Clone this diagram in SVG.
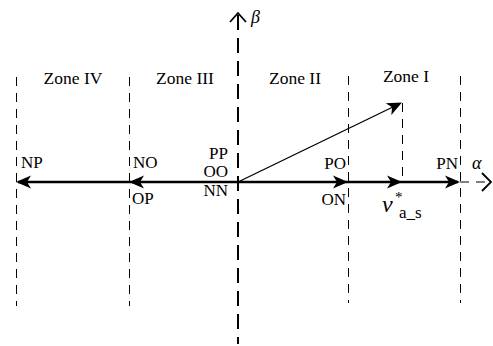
<svg xmlns="http://www.w3.org/2000/svg" width="493" height="346" viewBox="0 0 493 346">
<style>
.dash{stroke:#000;stroke-width:1;stroke-dasharray:9 7;fill:none}
.axisb{stroke:#000;stroke-width:2;stroke-dasharray:15 8;fill:none}
.open{stroke:#000;stroke-width:1.8;fill:none}
.thick{stroke:#000;stroke-width:2.6;fill:none}
.thin{stroke:#000;stroke-width:1.3;fill:none}
.head{fill:#000;stroke:none}
</style>
<defs>
<path id="hd" d="M0,0 L-15,-6.5 L-11,0 L-15,6.5 Z"/>
</defs>
<rect width="493" height="346" fill="#fff"/>
<g id="zone-boundaries">
<line class="dash" x1="16.5" y1="77" x2="16.5" y2="306"/>
<line class="dash" x1="129.5" y1="77" x2="129.5" y2="306"/>
<line class="dash" x1="348.5" y1="76" x2="348.5" y2="303"/>
<line class="dash" x1="460.5" y1="76" x2="460.5" y2="303"/>
</g>
<g id="beta-axis">
<line class="axisb" x1="238" y1="15" x2="238" y2="344"/>
<polyline class="open" points="230,22 238,13 246,22"/>
<text font-family="Liberation Serif" font-size="18" x="251" y="23" font-style="italic">β</text>
</g>
<g id="alpha-axis">
<line class="dash" x1="460" y1="182" x2="490" y2="182"/>
<polyline class="open" points="482,173 491,182 482,191"/>
<text font-family="Liberation Serif" font-size="18" x="472" y="169" font-style="italic">α</text>
</g>
<g id="connectors">
<line class="thick" x1="18" y1="182" x2="458" y2="182"/>
<use href="#hd" class="head" transform="translate(16,182) rotate(180)"/>
<use href="#hd" class="head" transform="translate(129,182) rotate(180)"/>
<use href="#hd" class="head" transform="translate(348,182)"/>
<use href="#hd" class="head" transform="translate(402,182)"/>
<use href="#hd" class="head" transform="translate(460,182)"/>
<line class="thin" x1="238" y1="182" x2="396" y2="105.5"/>
<use href="#hd" class="head" transform="translate(402,102.5) rotate(-25.8)"/>
<line class="dash" x1="402.5" y1="103" x2="402.5" y2="182"/>
</g>
<g id="zone-labels">
<text font-family="Liberation Serif" font-size="17.5" x="73" y="84" text-anchor="middle">Zone IV</text>
<text font-family="Liberation Serif" font-size="17.5" x="185" y="84" text-anchor="middle">Zone III</text>
<text font-family="Liberation Serif" font-size="17.5" x="295" y="84" text-anchor="middle">Zone II</text>
<text font-family="Liberation Serif" font-size="17.5" x="406" y="82" text-anchor="middle">Zone I</text>
</g>
<g id="node-NP"><text font-family="Liberation Serif" font-size="17" x="21" y="168">NP</text></g>
<g id="node-NO"><text font-family="Liberation Serif" font-size="17" x="133" y="168">NO</text><text font-family="Liberation Serif" font-size="17" x="132" y="204">OP</text></g>
<g id="node-origin">
<text font-family="Liberation Serif" font-size="17" x="228" y="159" text-anchor="end">PP</text>
<text font-family="Liberation Serif" font-size="17" x="228" y="177" text-anchor="end">OO</text>
<text font-family="Liberation Serif" font-size="17" x="228" y="196" text-anchor="end">NN</text>
</g>
<g id="node-PO"><text font-family="Liberation Serif" font-size="17" x="346" y="169" text-anchor="end">PO</text><text font-family="Liberation Serif" font-size="17" x="346" y="205" text-anchor="end">ON</text></g>
<g id="node-PN"><text font-family="Liberation Serif" font-size="17" x="458" y="169" text-anchor="end">PN</text></g>
<g id="node-v">
<text font-family="Liberation Serif" x="382" y="212" font-size="24" font-style="italic">v</text>
<text font-family="Liberation Serif" x="395" y="202" font-size="15">*</text>
<text font-family="Liberation Serif" x="399" y="218" font-size="17">a_s</text>
</g>
</svg>
